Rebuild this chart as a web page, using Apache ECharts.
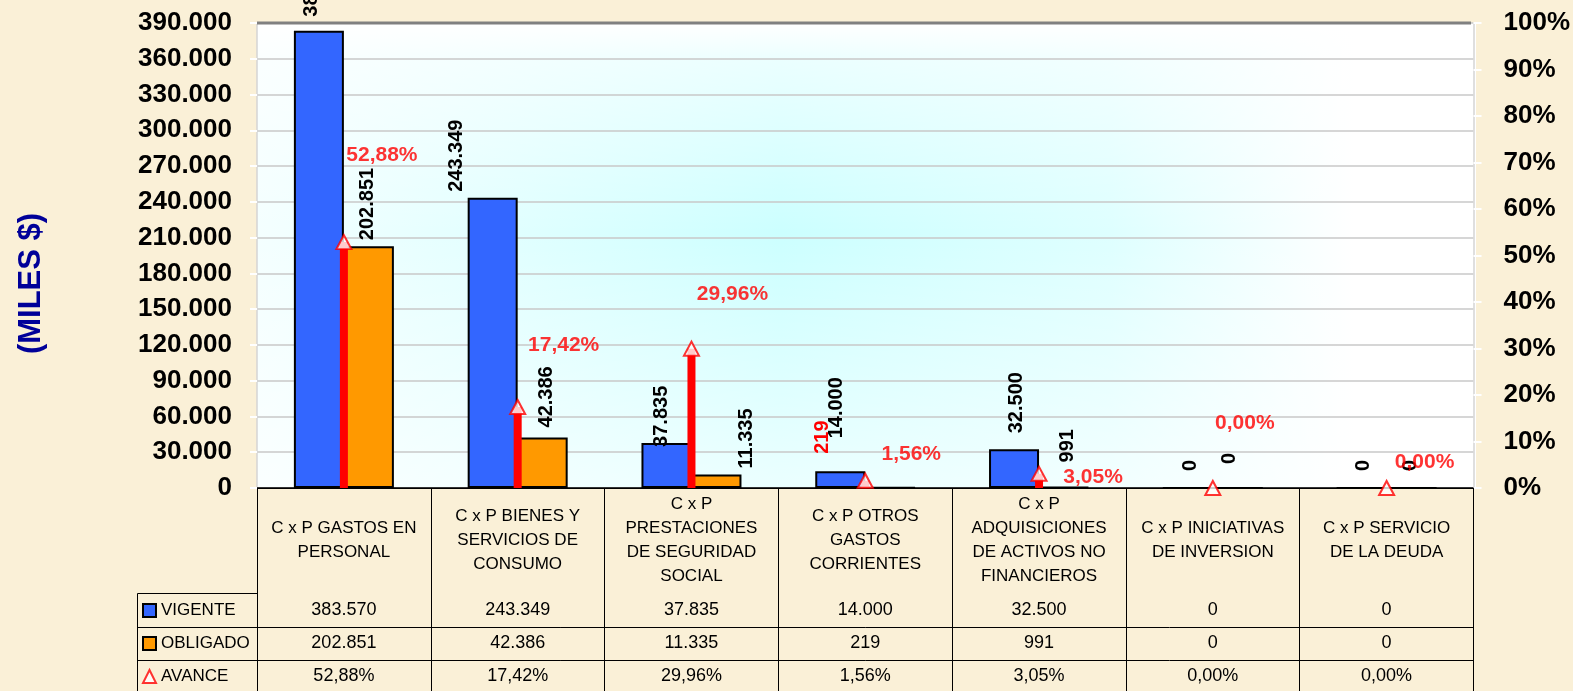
<!DOCTYPE html>
<html>
<head>
<meta charset="utf-8">
<script src="https://cdn.jsdelivr.net/npm/echarts@6/dist/echarts.min.js"></script>
<style>
html,body{margin:0;padding:0;background:#FAF0D7;}
#chart{width:1573px;height:691px;}
</style>
</head>
<body>
<div id="chart"></div>
<script>
// ---- data ----
const categories = [
  'C x P GASTOS EN\nPERSONAL',
  'C x P BIENES Y\nSERVICIOS DE\nCONSUMO',
  'C x P\nPRESTACIONES\nDE SEGURIDAD\nSOCIAL',
  'C x P OTROS\nGASTOS\nCORRIENTES',
  'C x P\nADQUISICIONES\nDE ACTIVOS NO\nFINANCIEROS',
  'C x P INICIATIVAS\nDE INVERSION',
  'C x P SERVICIO\nDE LA DEUDA'
];
const vigente  = [383570, 243349, 37835, 14000, 32500, 0, 0];
const obligado = [202851, 42386, 11335, 219, 991, 0, 0];
const avance   = [0.5288, 0.1742, 0.2996, 0.0156, 0.0305, 0.0, 0.0];
const seriesNames = ['VIGENTE', 'OBLIGADO', 'AVANCE'];
const leftAxisMax = 390000, leftAxisStep = 30000;
const rightAxisMax = 1, rightAxisStep = 0.1;

// ---- label placement (style only) ----
const vigLabelPos = [[18,-14],[-11,-6],[20,4],[21,-33],[27,-16],[29,-16],[28,-16]];
const oblLabelPos = [[24,-6],[29,-10],[55,-6],[-42,-33],[29,-24],[18,-23],[25,-16]];
const oblLabelColor = ['#000','#000','#000','#FF0000','#000','#000','#000'];
const avLabelOff = [[38,-87],[46,-62],[41,-54],[46,-27],[54,3],[32,-65],[38,-26]];

const fmtNum = v => String(v).replace(/\B(?=(\d{3})+(?!\d))/g, '.');
const fmtPct = v => (v*100).toFixed(2).replace('.', ',') + '%';

const FONT = 'Liberation Sans, Arial, sans-serif';

const chart = echarts.init(document.getElementById('chart'));

const rowAxis = (offset, margin, texts) => ({
  type: 'category', data: categories, gridIndex: 0, position: 'bottom', offset: offset,
  axisLine: {show: true, lineStyle: {color: '#000', width: 1}},
  axisTick: {show: false}, splitLine: {show: false},
  axisLabel: {interval: 0, margin: margin, verticalAlign: 'middle', color: '#000',
    fontFamily: FONT, fontSize: 18, formatter: (v, i) => texts[i]}
});

const barLabelBase = {show: true, rotate: 90, align: 'left', verticalAlign: 'middle',
  fontFamily: FONT, fontSize: 20, fontWeight: 'bold', color: '#000'};

const option = {
  backgroundColor: '#FAF0D7',
  animation: false,
  grid: {left: 257, right: 97, top: 23, bottom: 203, containLabel: false},
  legend: {
    orient: 'vertical', left: 142, top: 601, padding: 0, itemWidth: 13, itemHeight: 13, itemGap: 14,
    selectedMode: false,
    textStyle: {fontFamily: FONT, fontSize: 17, color: '#000', lineHeight: 19},
    data: [{name: seriesNames[0], icon: 'rect'}, {name: seriesNames[1], icon: 'rect'}, {name: seriesNames[2], icon: 'triangle'}]
  },
  graphic: [
    {type: 'rect', z: -10, silent: true, shape: {x: 257, y: 23, width: 1219, height: 465},
      style: {fill: {type: 'linear', x: 0, y: 0, x2: 1, y2: 0, colorStops: [
        {offset: 0, color: '#F4FFFF'}, {offset: 0.43, color: '#CCFFFF'}, {offset: 0.7, color: '#DEFFFF'}, {offset: 0.9, color: '#FFFFFF'}, {offset: 1, color: '#FFFFFF'}]}}},
    {type: 'rect', z: -9, silent: true, shape: {x: 257, y: 23, width: 1219, height: 465},
      style: {fill: {type: 'linear', x: 0, y: 0, x2: 0, y2: 1, colorStops: [
        {offset: 0, color: 'rgba(255,255,255,1)'}, {offset: 0.08, color: 'rgba(255,255,255,0.6)'}, {offset: 0.45, color: 'rgba(255,255,255,0)'}, {offset: 1, color: 'rgba(255,255,255,0.6)'}]}}},
    {type: 'line', z: 10, silent: true, shape: {x1: 257, y1: 23, x2: 1471, y2: 23}, style: {stroke: '#808080', lineWidth: 3}},
    {type: 'polyline', z: 10, silent: true, shape: {points: [[257, 593.5], [137.5, 593.5], [137.5, 691]]}, style: {stroke: '#000', lineWidth: 1, fill: null}},
    {type: 'line', z: 10, silent: true, shape: {x1: 137, y1: 627.5, x2: 257, y2: 627.5}, style: {stroke: '#000', lineWidth: 1}},
    {type: 'line', z: 10, silent: true, shape: {x1: 137, y1: 660.5, x2: 257, y2: 660.5}, style: {stroke: '#000', lineWidth: 1}}
  ],
  xAxis: [
    {type: 'category', data: categories, position: 'bottom',
      axisLine: {show: true, lineStyle: {color: '#000', width: 1.5}},
      axisTick: {show: true, length: 203, lineStyle: {color: '#000', width: 1}},
      splitLine: {show: false},
      axisLabel: {interval: 0, margin: 52, verticalAlign: 'middle', align: 'center', color: '#000',
        fontFamily: FONT, fontSize: 17, lineHeight: 24}},
    rowAxis(105, 17, vigente.map(fmtNum)),
    rowAxis(139, 16, obligado.map(fmtNum)),
    rowAxis(172, 16, avance.map(fmtPct))
  ],
  yAxis: [
    {type: 'value', min: 0, max: leftAxisMax, interval: leftAxisStep, position: 'left',
      name: '(MILES $)', nameLocation: 'middle', nameGap: 210, nameRotate: 90,
      nameTextStyle: {color: '#000099', fontFamily: FONT, fontSize: 31, fontWeight: 'bold', padding: [0, 56, 0, 0]},
      axisLine: {show: true, lineStyle: {color: '#D4D4D4', width: 1.5}},
      axisTick: {show: true, length: 7, lineStyle: {color: '#FFFFFF', width: 2}},
      splitLine: {show: true, lineStyle: {color: '#C8C8C8', width: 1.5}},
      axisLabel: {margin: 25, color: '#000', fontFamily: FONT, fontSize: 26, fontWeight: 'bold', formatter: fmtNum}},
    {type: 'value', min: 0, max: rightAxisMax, interval: rightAxisStep, position: 'right',
      axisLine: {show: true, lineStyle: {color: '#D4D4D4', width: 1.5}},
      axisTick: {show: true, length: 8, lineStyle: {color: '#FFFFFF', width: 2}},
      splitLine: {show: false},
      axisLabel: {margin: 30, color: '#000', fontFamily: FONT, fontSize: 26, fontWeight: 'bold',
        formatter: v => Math.round(v*100) + '%'}}
  ],
  series: [
    {name: seriesNames[0], type: 'bar', xAxisIndex: 0, yAxisIndex: 0, barWidth: 50, barGap: '0%', z: 2,
      itemStyle: {color: '#3366FF', borderColor: '#000', borderWidth: 2},
      data: vigente.map((v, i) => ({value: v, label: Object.assign({}, barLabelBase, {position: vigLabelPos[i], formatter: fmtNum(v)})}))},
    {name: seriesNames[1], type: 'bar', xAxisIndex: 0, yAxisIndex: 0, barWidth: 50, barGap: '0%', z: 2,
      itemStyle: {color: '#FF9900', borderColor: '#000', borderWidth: 2},
      data: obligado.map((v, i) => ({value: v, label: Object.assign({}, barLabelBase, {position: oblLabelPos[i], color: oblLabelColor[i], formatter: fmtNum(v)})}))},
    {name: 'AVANCE_ARROW', type: 'bar', xAxisIndex: 1, yAxisIndex: 1, barWidth: 8, z: 3,
      itemStyle: {color: '#FF0000'}, data: avance.slice()},
    {name: seriesNames[2], type: 'scatter', xAxisIndex: 1, yAxisIndex: 1, z: 4,
      symbol: 'triangle', symbolSize: [15, 14],
      itemStyle: {color: '#FFFFFF', borderColor: '#FF0000', borderWidth: 2},
      data: avance.map((v, i) => ({value: v, label: {show: true, position: 'inside', offset: avLabelOff[i],
        formatter: fmtPct(v), color: '#FF0000', fontFamily: FONT, fontSize: 21, fontWeight: 'bold'}}))}
  ]
};
chart.setOption(option);
</script>
</body>
</html>
